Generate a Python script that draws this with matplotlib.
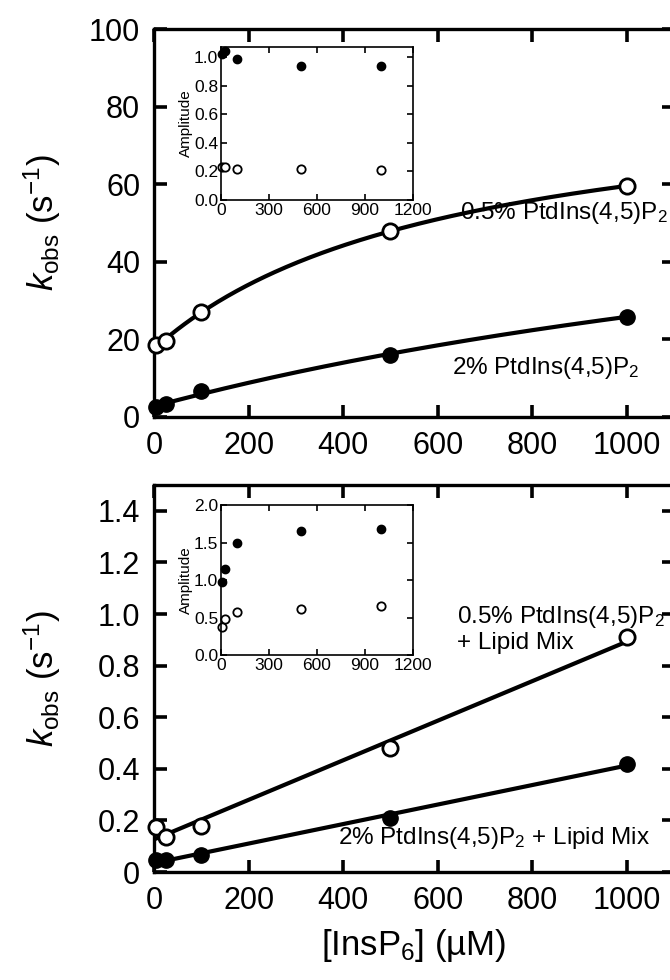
import matplotlib
matplotlib.use("Agg")
import matplotlib.pyplot as plt
import numpy as np

plt.rcParams['font.family'] = ['Liberation Sans', 'DejaVu Sans']
plt.rcParams['mathtext.fontset'] = 'custom'
plt.rcParams['mathtext.rm'] = 'Liberation Sans'
plt.rcParams['mathtext.it'] = 'Liberation Sans:italic'

# [InsP6] (uM)
conc = [5, 25, 100, 500, 1000]

# top panel: kobs (s-1)
top_open = [18.6, 19.6, 27.0, 48.0, 59.5]     # 0.5% PtdIns(4,5)P2
top_filled = [2.6, 3.4, 6.6, 16.0, 25.9]      # 2% PtdIns(4,5)P2
top_amp_open = [0.23, 0.23, 0.22, 0.22, 0.21]
top_amp_filled = [1.02, 1.04, 0.99, 0.94, 0.94]

# bottom panel: kobs (s-1), + lipid mix
bot_open = [0.175, 0.136, 0.18, 0.48, 0.91]
bot_filled = [0.048, 0.046, 0.065, 0.21, 0.42]
bot_amp_open = [0.37, 0.48, 0.57, 0.62, 0.65]
bot_amp_filled = [0.97, 1.15, 1.49, 1.65, 1.68]


def hyper_fit(x, y):
    x = np.array(x, float)
    y = np.array(y, float)
    best = None
    for K in np.linspace(20, 5000, 2500):
        A = np.column_stack([np.ones_like(x), x / (K + x)])
        coef, res, _, _ = np.linalg.lstsq(A, y, rcond=None)
        err = np.sum((A @ coef - y) ** 2)
        if best is None or err < best[0]:
            best = (err, K, coef)
    _, K, coef = best
    xs = np.linspace(x.min(), x.max(), 200)
    return xs, coef[0] + coef[1] * xs / (K + xs)


def lin_fit(x, y):
    p = np.polyfit(x, y, 1)
    xs = np.linspace(min(x), max(x), 50)
    return xs, np.polyval(p, xs)


fig = plt.figure(figsize=(6.7, 9.8), dpi=100)


def style_main(ax):
    for s in ax.spines.values():
        s.set_linewidth(2.4)
    ax.tick_params(direction='in', length=9, width=2.6, top=True, right=True,
                   labelsize=22, pad=10)


def style_inset(ax):
    for s in ax.spines.values():
        s.set_linewidth(1.2)
    ax.tick_params(direction='in', length=4, width=1.2, top=True, right=True,
                   labelsize=12.5, pad=2)


ms_main = 11
ms_in = 6

# ---------- top panel
ax1 = fig.add_axes([0.2299, 0.5745, 0.776, 0.3959])
xs, ys = hyper_fit(conc, top_open)
ax1.plot(xs, ys, color='black', lw=3)
xs, ys = hyper_fit(conc, top_filled)
ax1.plot(xs, ys, color='black', lw=3)
ax1.plot(conc, top_open, 'o', mfc='white', mec='black', mew=2, ms=ms_main, clip_on=False, zorder=5)
ax1.plot(conc, top_filled, 'o', mfc='black', mec='black', ms=ms_main, clip_on=False, zorder=5)
ax1.set_xlim(0, 1100)
ax1.set_ylim(0, 100)
ax1.set_xticks([0, 200, 400, 600, 800, 1000])
ax1.set_yticks([0, 20, 40, 60, 80, 100])
style_main(ax1)
ax1.set_ylabel(r'$\mathit{k}_{\mathrm{obs}}$ (s$^{-1}$)', fontsize=25)
ax1.yaxis.set_label_coords(-0.175, 0.5)
ax1.text(0.988, 0.526, r'0.5% PtdIns(4,5)P$_2$', transform=ax1.transAxes,
         fontsize=17.5, ha='right', va='center')
ax1.text(0.754, 0.125, r'2% PtdIns(4,5)P$_2$', transform=ax1.transAxes,
         fontsize=17.5, ha='center', va='center')

ins1 = fig.add_axes([0.3299, 0.7959, 0.2866, 0.156])
ins1.plot(conc, top_amp_filled, 'o', color='black', ms=ms_in, clip_on=False)
ins1.plot(conc, top_amp_open, 'o', mfc='white', mec='black', mew=1.3, ms=ms_in, clip_on=False)
ins1.set_xlim(0, 1200)
ins1.set_ylim(0, 1.07)
ins1.set_xticks([0, 300, 600, 900, 1200])
ins1.set_yticks([0.0, 0.2, 0.4, 0.6, 0.8, 1.0])
ins1.yaxis.set_major_formatter(plt.FormatStrFormatter('%.1f'))
style_inset(ins1)
ins1.set_ylabel('Amplitude', fontsize=11, labelpad=1)

# ---------- bottom panel
ax2 = fig.add_axes([0.2299, 0.1102, 0.776, 0.3949])
xs, ys = lin_fit(conc, bot_open)
ax2.plot(xs, ys, color='black', lw=3)
xs, ys = lin_fit(conc, bot_filled)
ax2.plot(xs, ys, color='black', lw=3)
ax2.plot(conc, bot_open, 'o', mfc='white', mec='black', mew=2, ms=ms_main, clip_on=False, zorder=5)
ax2.plot(conc, bot_filled, 'o', mfc='black', mec='black', ms=ms_main, clip_on=False, zorder=5)
ax2.set_xlim(0, 1100)
ax2.set_ylim(0, 1.5)
ax2.set_xticks([0, 200, 400, 600, 800, 1000])
ax2.set_yticks([0, 0.2, 0.4, 0.6, 0.8, 1.0, 1.2, 1.4])
ax2.set_yticklabels(['0', '0.2', '0.4', '0.6', '0.8', '1.0', '1.2', '1.4'])
style_main(ax2)
ax2.set_ylabel(r'$\mathit{k}_{\mathrm{obs}}$ (s$^{-1}$)', fontsize=25)
ax2.yaxis.set_label_coords(-0.175, 0.5)
ax2.set_xlabel(r'[InsP$_6$] (µM)', fontsize=25, labelpad=8)
ax2.text(0.583, 0.659, r'0.5% PtdIns(4,5)P$_2$', transform=ax2.transAxes,
         fontsize=17.5, ha='left', va='center')
ax2.text(0.583, 0.592, '+ Lipid Mix', transform=ax2.transAxes,
         fontsize=17.5, ha='left', va='center')
ax2.text(0.953, 0.088, r'2% PtdIns(4,5)P$_2$ + Lipid Mix', transform=ax2.transAxes,
         fontsize=17.5, ha='right', va='center')

ins2 = fig.add_axes([0.3299, 0.3316, 0.2866, 0.1531])
ins2.plot(conc, bot_amp_filled, 'o', color='black', ms=ms_in, clip_on=False)
ins2.plot(conc, bot_amp_open, 'o', mfc='white', mec='black', mew=1.3, ms=ms_in, clip_on=False)
ins2.set_xlim(0, 1200)
ins2.set_ylim(0, 2.0)
ins2.set_xticks([0, 300, 600, 900, 1200])
ins2.set_yticks([0.0, 0.5, 1.0, 1.5, 2.0])
ins2.yaxis.set_major_formatter(plt.FormatStrFormatter('%.1f'))
style_inset(ins2)
ins2.set_ylabel('Amplitude', fontsize=11, labelpad=1)

fig.savefig('out.png', dpi=100)
